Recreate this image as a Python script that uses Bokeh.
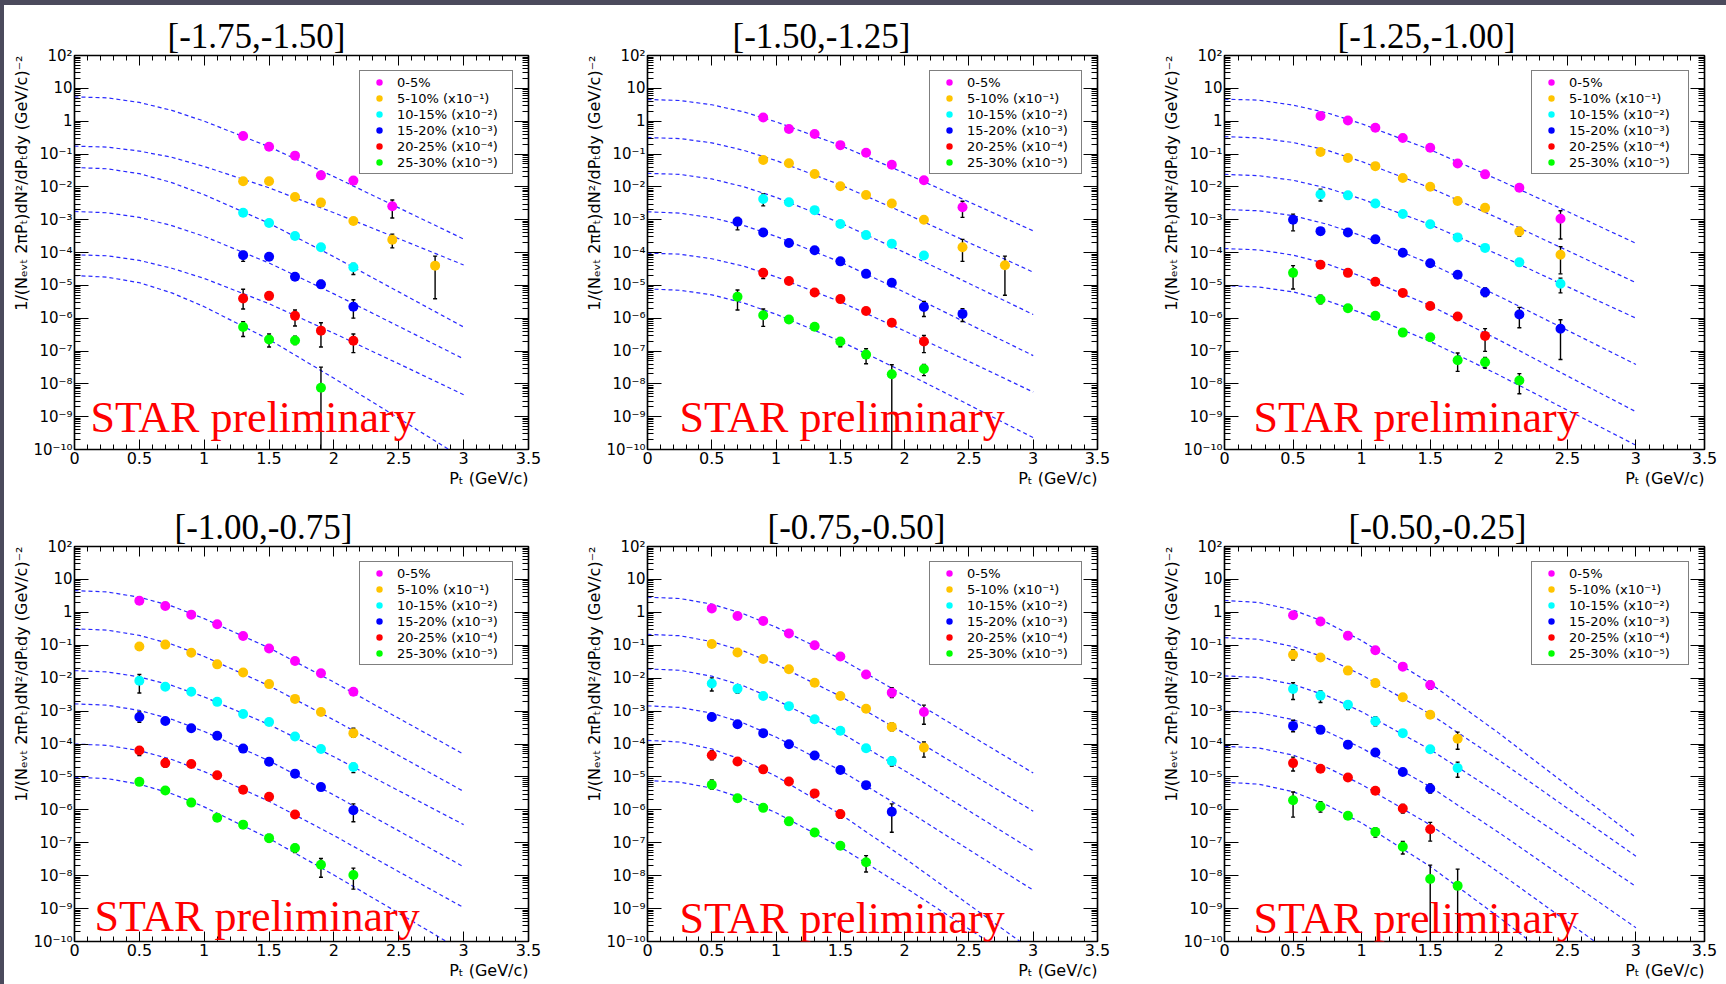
from bokeh.plotting import figure
from bokeh.models import (FixedTicker, LinearAxis, LogAxis, Legend, LegendItem,
                          Label, Title, Spacer)
from bokeh.layouts import row, column
from bokeh.embed import file_html
from bokeh.resources import INLINE

# ---------------- data ----------------
TITLES = ["[-1.75,-1.50]", "[-1.50,-1.25]", "[-1.25,-1.00]",
          "[-1.00,-0.75]", "[-0.75,-0.50]", "[-0.50,-0.25]"]
CENTRALITY = ["0-5%", "5-10% (x10⁻¹)", "10-15% (x10⁻²)", "15-20% (x10⁻³)",
              "20-25% (x10⁻⁴)", "25-30% (x10⁻⁵)"]
COLORS = ["#ff00ff", "#ffc400", "#00ffff", "#0000ff", "#ff0000", "#00ff00"]
X_LABEL = "Pₜ (GeV/c)"
Y_LABEL = "1/(Nₑᵥₜ 2πPₜ)dN²/dPₜdy (GeV/c)⁻²"
STAR_TEXT = "STAR preliminary"

PT = [0.5, 0.7, 0.9, 1.1, 1.3, 1.5, 1.7, 1.9, 2.15, 2.45, 2.78]
FIT_PT = [0.0, 0.25, 0.5, 0.75, 1.0, 1.5, 2.0, 2.5, 3.0]
N = None

# log10 of the yields, one list per centrality class, aligned with PT
Y1 = [[N, N, N, N, -0.45, -0.78, -1.05, -1.65, -1.81, -2.59, N],
      [N, N, N, N, -1.83, -1.83, -2.31, -2.48, -3.04, -3.61, -4.40],
      [N, N, N, N, -2.79, -3.10, -3.50, -3.84, -4.45, N, N],
      [N, N, N, N, -4.08, -4.13, -4.74, -4.97, -5.65, N, N],
      [N, N, N, N, -5.40, -5.32, -5.93, -6.38, -6.69, N, N],
      [N, N, N, N, -6.27, -6.65, -6.68, -8.12, N, N, N]]
Y2 = [[N, N, 0.11, -0.24, -0.39, -0.73, -0.96, -1.33, -1.80, -2.62, N],
      [N, N, -1.18, -1.28, -1.61, -1.98, -2.25, -2.51, -3.00, -3.84, -4.39],
      [N, N, -2.37, -2.47, -2.71, -3.13, -3.47, -3.73, -4.09, N, N],
      [N, -3.06, -3.39, -3.71, -3.93, -4.27, -4.65, -4.92, -5.66, -5.87, N],
      [N, N, -4.62, -4.87, -5.22, -5.42, -5.78, -6.14, -6.71, N, N],
      [N, -5.35, -5.91, -6.04, -6.26, -6.71, -7.11, -7.71, -7.55, N, N]]
Y3 = [[N, 0.16, 0.02, -0.20, -0.51, -0.81, -1.29, -1.62, -2.03, -2.97, N],
      [N, -0.94, -1.12, -1.37, -1.73, -2.00, -2.43, -2.64, -3.36, -4.07, N],
      [N, -2.23, -2.26, -2.51, -2.83, -3.14, -3.54, -3.86, -4.30, -4.95, N],
      [-3.00, -3.35, -3.39, -3.60, -4.01, -4.33, -4.68, -5.21, -5.89, -6.32, N],
      [N, -4.37, -4.62, -4.89, -5.23, -5.63, -5.95, -6.54, N, N, N],
      [-4.62, -5.43, -5.70, -5.93, -6.44, -6.58, -7.28, -7.34, -7.90, N, N]]
Y4 = [[0.35, 0.19, -0.07, -0.36, -0.72, -1.10, -1.48, -1.85, -2.41, N, N],
      [-1.04, -0.98, -1.23, -1.58, -1.83, -2.18, -2.63, -3.03, -3.67, N, N],
      [-2.08, -2.26, -2.41, -2.72, -3.09, -3.33, -3.77, -4.15, -4.70, N, N],
      [-3.18, -3.30, -3.52, -3.75, -4.14, -4.54, -4.90, -5.31, -6.01, N, N],
      [-4.20, -4.58, -4.61, -4.95, -5.39, -5.60, -6.14, N, N, N, N],
      [-5.15, -5.41, -5.78, -6.24, -6.45, -6.86, -7.16, -7.67, -7.98, N, N]]
Y5 = [[0.12, -0.11, -0.26, -0.64, -1.00, -1.34, -1.89, -2.44, -3.03, N, N],
      [-0.96, -1.22, -1.42, -1.73, -2.14, -2.54, -2.93, -3.48, -4.11, N, N],
      [-2.16, -2.32, -2.54, -2.85, -3.25, -3.60, -4.13, -4.52, N, N, N],
      [-3.18, -3.40, -3.67, -4.01, -4.35, -4.79, -5.25, -6.06, N, N, N],
      [-4.34, -4.53, -4.77, -5.14, -5.50, -6.13, N, N, N, N, N],
      [-5.24, -5.65, -5.94, -6.35, -6.69, -7.09, -7.59, N, N, N, N]]
Y6 = [[-0.09, -0.28, -0.71, -1.15, -1.65, -2.21, N, N, N, N, N],
      [-1.29, -1.37, -1.77, -2.15, -2.58, -3.11, -3.84, N, N, N, N],
      [-2.33, -2.53, -2.81, -3.31, -3.67, -4.16, -4.73, N, N, N, N],
      [-3.45, -3.57, -4.02, -4.26, -4.85, -5.35, N, N, N, N, N],
      [-4.58, -4.75, -5.02, -5.42, -5.96, -6.59, N, N, N, N, N],
      [-5.71, -5.90, -6.18, -6.67, -7.12, -8.10, -8.31, N, N, N, N]]

# visible error bars: (centrality index, pT, log10 low, log10 high)
E1 = [(0, 1.9, -1.75, -1.57), (0, 2.45, -2.95, -2.40),
      (1, 2.45, -3.86, -3.44), (1, 2.78, -5.41, -4.11),
      (2, 2.15, -4.67, -4.33),
      (3, 1.3, -4.27, -3.97), (3, 1.7, -4.84, -4.65), (3, 1.9, -5.06, -4.85), (3, 2.15, -6.00, -5.44),
      (4, 1.3, -5.72, -5.12), (4, 1.5, -5.43, -5.22), (4, 1.7, -6.24, -5.75), (4, 1.9, -6.88, -6.14),
      (4, 2.15, -7.05, -6.48),
      (5, 1.3, -6.56, -6.11), (5, 1.5, -6.88, -6.48), (5, 1.7, -6.80, -6.55), (5, 1.9, -11.0, -7.49)]
E2 = [(0, 2.45, -2.93, -2.44),
      (1, 2.45, -4.27, -3.60), (1, 2.78, -5.30, -4.11),
      (2, 0.9, -2.58, -2.22),
      (3, 0.7, -3.31, -2.93), (3, 2.15, -5.95, -5.49), (3, 2.45, -6.10, -5.71),
      (4, 0.9, -4.79, -4.50), (4, 1.7, -5.87, -5.70), (4, 1.9, -6.25, -6.05), (4, 2.15, -7.05, -6.53),
      (5, 0.7, -5.75, -5.14), (5, 0.9, -6.25, -5.72), (5, 1.1, -6.16, -5.93), (5, 1.5, -6.87, -6.60),
      (5, 1.7, -7.39, -6.93), (5, 1.9, -11.0, -7.42), (5, 2.15, -7.75, -7.41)]
E3 = [(0, 2.45, -3.59, -2.73),
      (1, 2.15, -3.50, -3.24), (1, 2.45, -4.65, -3.82),
      (2, 0.7, -2.43, -2.07), (2, 2.45, -5.23, -4.78),
      (3, 0.5, -3.34, -2.83), (3, 1.9, -5.34, -5.08), (3, 2.15, -6.29, -5.67), (3, 2.45, -7.26, -6.05),
      (4, 1.7, -6.05, -5.88), (4, 1.9, -7.01, -6.32),
      (5, 0.5, -5.11, -4.40), (5, 0.7, -5.56, -5.30), (5, 1.7, -7.62, -7.06), (5, 1.9, -7.52, -7.20),
      (5, 2.15, -8.30, -7.69)]
E4 = [(0, 2.15, -2.52, -2.32),
      (1, 0.5, -1.15, -0.95), (1, 2.15, -3.80, -3.52),
      (2, 0.5, -2.45, -1.89), (2, 0.7, -2.35, -2.17), (2, 2.15, -4.87, -4.59),
      (3, 0.5, -3.34, -3.03), (3, 1.9, -5.40, -5.22), (3, 2.15, -6.36, -5.82),
      (4, 0.5, -4.35, -4.08), (4, 0.7, -4.70, -4.45), (4, 1.7, -6.25, -6.03),
      (5, 1.1, -6.35, -6.13), (5, 1.5, -6.97, -6.75), (5, 1.7, -7.30, -7.05), (5, 1.9, -8.05, -7.48),
      (5, 2.15, -8.41, -7.77)]
E5 = [(0, 1.9, -2.59, -2.29), (0, 2.15, -3.40, -2.82),
      (1, 1.9, -3.60, -3.36), (1, 2.15, -4.40, -3.94),
      (2, 0.5, -2.39, -1.99), (2, 0.7, -2.45, -2.22), (2, 1.9, -4.67, -4.40),
      (3, 1.9, -6.68, -5.82),
      (4, 0.5, -4.48, -4.20), (4, 1.5, -6.26, -6.02),
      (5, 0.5, -5.37, -5.09), (5, 1.5, -7.18, -7.00), (5, 1.7, -7.89, -7.39)]
E6 = [(0, 1.5, -2.34, -2.09),
      (1, 0.5, -1.45, -1.14), (1, 1.7, -4.16, -3.64),
      (2, 0.5, -2.65, -2.14), (2, 0.7, -2.74, -2.39), (2, 0.9, -2.95, -2.70), (2, 1.1, -3.45, -3.18),
      (2, 1.7, -5.01, -4.55),
      (3, 0.5, -3.63, -3.28), (3, 1.5, -5.49, -5.21),
      (4, 0.5, -4.82, -4.40), (4, 1.3, -6.10, -5.84), (4, 1.5, -6.95, -6.38),
      (5, 0.5, -6.22, -5.46), (5, 0.7, -6.07, -5.75), (5, 1.1, -6.83, -6.55), (5, 1.3, -7.34, -6.96),
      (5, 1.5, -11.0, -7.68), (5, 1.7, -11.0, -7.80)]

# dashed fit curves, log10 values read at FIT_PT
F1 = [[0.74, 0.71, 0.57, 0.33, 0.00, -0.78, -1.69, -2.64, -3.59],
      [-0.76, -0.79, -0.91, -1.10, -1.38, -2.03, -2.79, -3.58, -4.38],
      [-1.41, -1.45, -1.60, -1.87, -2.24, -3.11, -4.13, -5.20, -6.27],
      [-2.75, -2.79, -2.93, -3.18, -3.51, -4.32, -5.26, -6.25, -7.24],
      [-4.07, -4.10, -4.24, -4.48, -4.79, -5.56, -6.46, -7.39, -8.33],
      [-4.70, -4.75, -4.92, -5.23, -5.65, -6.65, -7.83, -9.05, -10.28]]
F2 = [[0.66, 0.63, 0.50, 0.28, -0.02, -0.74, -1.58, -2.46, -3.34],
      [-0.50, -0.53, -0.66, -0.89, -1.20, -1.94, -2.80, -3.70, -4.60],
      [-1.59, -1.62, -1.76, -2.00, -2.32, -3.10, -4.00, -4.94, -5.89],
      [-2.76, -2.80, -2.94, -3.18, -3.51, -4.29, -5.21, -6.18, -7.14],
      [-4.02, -4.05, -4.19, -4.42, -4.74, -5.50, -6.39, -7.32, -8.25],
      [-5.11, -5.15, -5.29, -5.54, -5.88, -6.70, -7.65, -8.64, -9.64]]
F3 = [[0.67, 0.64, 0.49, 0.25, -0.08, -0.87, -1.79, -2.75, -3.72],
      [-0.47, -0.51, -0.65, -0.89, -1.23, -2.03, -2.96, -3.94, -4.92],
      [-1.62, -1.66, -1.80, -2.04, -2.37, -3.15, -4.07, -5.04, -6.00],
      [-2.69, -2.73, -2.88, -3.14, -3.49, -4.34, -5.33, -6.37, -7.41],
      [-3.88, -3.92, -4.08, -4.35, -4.73, -5.62, -6.66, -7.76, -8.85],
      [-5.01, -5.05, -5.20, -5.47, -5.84, -6.71, -7.73, -8.80, -9.87]]
F4 = [[0.66, 0.62, 0.46, 0.19, -0.19, -1.08, -2.12, -3.22, -4.31],
      [-0.50, -0.54, -0.70, -0.97, -1.34, -2.23, -3.27, -4.35, -5.44],
      [-1.77, -1.81, -1.96, -2.22, -2.57, -3.41, -4.39, -5.42, -6.45],
      [-2.78, -2.82, -2.98, -3.25, -3.62, -4.51, -5.55, -6.64, -7.73],
      [-4.00, -4.04, -4.20, -4.47, -4.84, -5.74, -6.78, -7.88, -8.97],
      [-5.01, -5.05, -5.22, -5.51, -5.91, -6.87, -7.98, -9.14, -10.31]]
F5 = [[0.46, 0.42, 0.25, -0.05, -0.45, -1.41, -2.53, -3.71, -4.88],
      [-0.67, -0.71, -0.89, -1.18, -1.58, -2.55, -3.68, -4.86, -6.04],
      [-1.72, -1.76, -1.94, -2.24, -2.66, -3.65, -4.81, -6.03, -7.24],
      [-2.84, -2.89, -3.06, -3.37, -3.79, -4.80, -5.98, -7.21, -8.44],
      [-3.89, -3.94, -4.15, -4.50, -4.98, -6.13, -7.47, -8.88, -10.29],
      [-5.11, -5.16, -5.34, -5.66, -6.09, -7.13, -8.35, -9.62, -10.89]]
F6 = [[0.36, 0.30, 0.07, -0.32, -0.86, -2.16, -3.67, -5.26, -6.84],
      [-0.77, -0.82, -1.04, -1.40, -1.90, -3.09, -4.49, -5.95, -7.41],
      [-1.93, -1.98, -2.19, -2.54, -3.02, -4.17, -5.51, -6.92, -8.33],
      [-3.00, -3.05, -3.26, -3.63, -4.12, -5.30, -6.69, -8.13, -9.58],
      [-4.07, -4.12, -4.34, -4.72, -5.23, -6.46, -7.90, -9.40, -10.90],
      [-5.16, -5.22, -5.45, -5.86, -6.40, -7.72, -9.26, -10.87, -12.48]]

Y_ALL = [Y1, Y2, Y3, Y4, Y5, Y6]
E_ALL = [E1, E2, E3, E4, E5, E6]
F_ALL = [F1, F2, F3, F4, F5, F6]

X_TICKS = [0.0, 0.5, 1.0, 1.5, 2.0, 2.5, 3.0, 3.5]
X_MINOR = [round(0.1 * i, 2) for i in range(36)]
Y_DECADES = list(range(-10, 3))

# ---------------- layout / style ----------------
DARK = "#4b4a5c"
FIT_COLOR = "#2a2aff"
COL_W = [574, 579, 569]
COL_BL = [70, 69, 67]
COL_BR = [50, 60, 22]
ROW_H = [485, 494]
ROW_BT = [50, 56]
ROW_BB = [41, 43]
TITLE_OFF = [93, 85, 113, 100, 120, 124]
STAR_POS = [(16, 32), (32, 32), (29, 32), (20, 25), (32, 23), (29, 23)]
LEG_LABEL_W = [112, 111, 116, 112, 111, 116]

SUP = str.maketrans("-0123456789", "⁻⁰¹²³⁴⁵⁶⁷⁸⁹")


def dec_label(d):
    if d == 0:
        return "1"
    if d == 1:
        return "10"
    return "10" + str(d).translate(SUP)


Y_MAJOR = [float(f"1e{d}") for d in Y_DECADES]
Y_MINOR = [float(f"{m}e{d}") for d in Y_DECADES[:-1] for m in range(2, 10)]
Y_LABELS = {float(f"1e{d}"): dec_label(d) for d in Y_DECADES}
X_LABELS = {t: f"{t:g}" for t in X_TICKS}

SANS = "DejaVu Sans"
SERIF = "Liberation Serif"


def style_axis(ax, major_in, minor_in, labels, show, size):
    ax.axis_line_color = "black"
    ax.axis_line_width = 1.2
    ax.major_tick_line_color = "black"
    ax.minor_tick_line_color = "black"
    ax.major_tick_in = major_in
    ax.major_tick_out = 0
    ax.minor_tick_in = minor_in
    ax.minor_tick_out = 0
    if show:
        ax.major_label_overrides = labels
        ax.major_label_text_font = SANS
        ax.major_label_text_font_size = size
        ax.major_label_text_color = "black"
        ax.major_label_standoff = 2
    else:
        ax.major_label_overrides = {k: "" for k in labels}
        ax.major_label_text_font_size = "0px"
        ax.major_label_standoff = 0


def make_panel(k):
    r, c = divmod(k, 3)
    p = figure(width=COL_W[c], height=ROW_H[r], x_range=(0, 3.5), y_range=(1e-10, 1e2),
               y_axis_type="log", output_backend="svg", toolbar_location=None,
               min_border_left=COL_BL[c], min_border_right=COL_BR[c],
               min_border_top=ROW_BT[r], min_border_bottom=ROW_BB[r])
    p.grid.visible = False
    p.outline_line_color = "black"
    p.outline_line_width = 1.5
    p.background_fill_color = "white"
    p.border_fill_color = "white"

    p.title.text = TITLES[k]
    p.title.align = "left"
    p.title.offset = TITLE_OFF[k]
    p.title.text_font = SERIF
    p.title.text_font_size = "35px"
    p.title.text_font_style = "normal"
    p.title.text_color = "black"
    p.title.standoff = 0

    xa = p.xaxis[0]
    xa.ticker = FixedTicker(ticks=X_TICKS, minor_ticks=X_MINOR)
    style_axis(xa, 10, 5, X_LABELS, True, "16px")
    ya = p.yaxis[0]
    ya.ticker = FixedTicker(ticks=Y_MAJOR, minor_ticks=Y_MINOR)
    style_axis(ya, 14, 6, Y_LABELS, True, "15px")

    top = LinearAxis(ticker=FixedTicker(ticks=X_TICKS, minor_ticks=X_MINOR))
    style_axis(top, 10, 5, X_LABELS, False, "0px")
    p.add_layout(top, "above")
    right = LogAxis(ticker=FixedTicker(ticks=Y_MAJOR, minor_ticks=Y_MINOR))
    style_axis(right, 14, 6, Y_LABELS, False, "0px")
    p.add_layout(right, "right")

    p.add_layout(Title(text=X_LABEL, align="right", text_font=SANS, text_font_size="16px",
                       text_font_style="normal", text_color="black", standoff=0), "below")
    p.add_layout(Title(text=Y_LABEL, align="right", text_font=SANS, text_font_size="16px",
                       text_font_style="normal", text_color="black", standoff=0), "left")

    # fit curves
    for j in range(6):
        p.line(FIT_PT, [10.0 ** v for v in F_ALL[k][j]], line_color=FIT_COLOR,
               line_dash="4 3", line_width=1.2)

    # error bars
    errs = E_ALL[k]
    ex = [e[1] for e in errs]
    elo = [10.0 ** e[2] for e in errs]
    ehi = [10.0 ** e[3] for e in errs]
    p.segment(x0=ex, y0=elo, x1=ex, y1=ehi, line_color="black", line_width=1.4)
    p.scatter(ex + ex, elo + ehi, marker="dash", size=4, line_color="black", line_width=1.4)

    # data points
    items = []
    for j in range(6):
        ys = Y_ALL[k][j]
        xs = [PT[i] for i in range(len(PT)) if ys[i] is not None]
        yv = [10.0 ** ys[i] for i in range(len(PT)) if ys[i] is not None]
        rr = p.scatter(xs, yv, size=10, fill_color=COLORS[j], line_color=None)
        items.append(LegendItem(label=CENTRALITY[j], renderers=[rr]))

    leg = Legend(items=items, location="top_right", margin=15, padding=3, spacing=0,
                 glyph_width=32, glyph_height=16, label_height=16, label_standoff=2,
                 label_width=LEG_LABEL_W[k], label_text_font=SANS, label_text_font_size="13px",
                 label_text_color="black", border_line_color="black", border_line_width=1.5,
                 background_fill_color="white", background_fill_alpha=1.0)
    p.add_layout(leg)

    sx, sy = STAR_POS[k]
    p.add_layout(Label(x=sx, y=sy, x_units="screen", y_units="screen", text=STAR_TEXT,
                       text_font=SERIF, text_font_size="44px", text_color="#ff0000",
                       text_baseline="alphabetic"))
    return p


panels = [make_panel(k) for k in range(6)]
grid = column(row(*panels[:3]), row(*panels[3:]))
top_band = Spacer(width=1726, height=5, styles={"background-color": DARK})
left_band = Spacer(width=4, height=979, styles={"background-color": DARK})
layout = column(top_band, row(left_band, grid))

open("out.html", "w").write(file_html(layout, INLINE))
